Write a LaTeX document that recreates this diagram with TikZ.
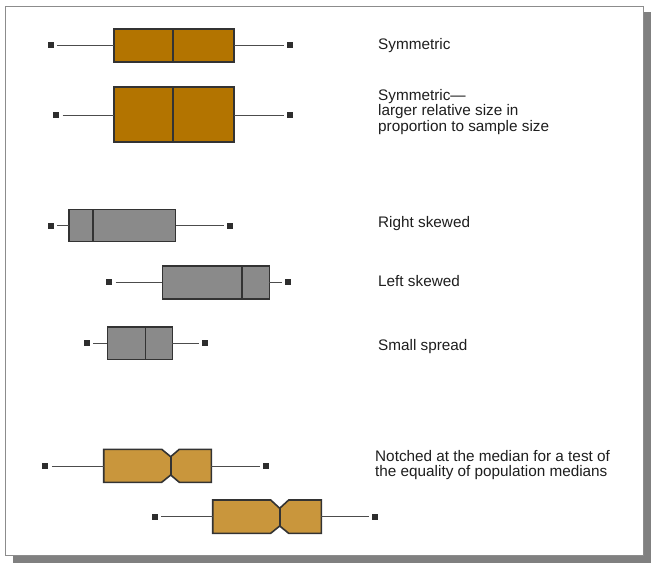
\documentclass[tikz,border=0pt]{standalone}
\usepackage{fontspec}
\setmainfont{Liberation Sans}
\definecolor{ochre}{RGB}{179,116,0}
\definecolor{tan}{RGB}{201,150,60}
\definecolor{boxgray}{RGB}{138,138,138}
\definecolor{edge}{RGB}{51,51,51}
\definecolor{frameline}{RGB}{140,140,140}
\definecolor{shadow}{RGB}{128,128,128}
\definecolor{txt}{RGB}{30,30,30}
\tikzset{
  bx/.style={draw=edge, line width=1.6pt, rectangle, inner sep=0pt, outer sep=0pt},
  med/.style={draw=edge, line width=1.6pt},
  mk/.style={fill=black!82, rectangle, minimum size=6pt, inner sep=0pt, outer sep=3.5pt},
  wh/.style={draw=black!70, line width=0.9pt},
  lbl/.style={anchor=base west, inner sep=0pt, text=txt, font=\fontsize{15.3}{15.4}\selectfont, align=left}
}
\begin{document}
\begin{tikzpicture}[x=1pt,y=-1pt]
\useasboundingbox (0,0) rectangle (657,565);
% frame with shadow
\fill[shadow] (13,12) rectangle (651,563);
\draw[frameline, fill=white, line width=1pt] (5,6) rectangle (643,555);

% Symmetric
\node[bx, fill=ochre, minimum width=120pt, minimum height=33pt] (b1) at (174,45.5) {};
\draw[med] (173,29) -- (173,62);
\node[mk] (l1) at (50.5,45) {};
\node[mk] (r1) at (290,45) {};
\draw[wh] (l1) -- (b1.west |- l1);
\draw[wh] (b1.east |- r1) -- (r1);
\node[lbl] (t1) at (378,49.5) {Symmetric};

% Symmetric larger
\node[bx, fill=ochre, minimum width=120pt, minimum height=55pt] (b2) at (174,114.5) {};
\draw[med] (173,87) -- (173,142);
\node[mk] (l2) at (56,115) {};
\node[mk] (r2) at (290,115) {};
\draw[wh] (l2) -- (b2.west |- l2);
\draw[wh] (b2.east |- r2) -- (r2);
\node[lbl] (t2) at (378,131) {Symmetric---\\larger relative size in\\proportion to sample size};

% Right skewed
\node[bx, fill=boxgray, minimum width=106.7pt, minimum height=32pt] (b3) at (122.3,225.3) {};
\draw[med] (93,209.3) -- (93,241.3);
\node[mk] (l3) at (50.7,225.7) {};
\node[mk] (r3) at (230,225.7) {};
\draw[wh] (l3) -- (b3.west |- l3);
\draw[wh] (b3.east |- r3) -- (r3);
\node[lbl] (t3) at (378,227.5) {Right skewed};

% Left skewed
\node[bx, fill=boxgray, minimum width=107pt, minimum height=33pt] (b4) at (215.8,282.2) {};
\draw[med] (241.7,265.7) -- (241.7,298.7);
\node[mk] (l4) at (109,282.3) {};
\node[mk] (r4) at (288,282.3) {};
\draw[wh] (l4) -- (b4.west |- l4);
\draw[wh] (b4.east |- r4) -- (r4);
\node[lbl] (t4) at (378,286) {Left skewed};

% Small spread
\node[bx, fill=boxgray, minimum width=65pt, minimum height=32.7pt] (b5) at (139.8,343.3) {};
\draw[med] (145.3,327) -- (145.3,359.7);
\node[mk] (l5) at (86.7,343) {};
\node[mk] (r5) at (205,343) {};
\draw[wh] (l5) -- (b5.west |- l5);
\draw[wh] (b5.east |- r5) -- (r5);
\node[lbl] (t5) at (378,350) {Small spread};

% Notched 1
\coordinate (n1w) at (103.7,466);
\coordinate (n1e) at (211.3,466);
\draw[med, fill=tan, line join=miter] (103.7,449.3) -- (161.7,449.3) -- (170.7,456.7) -- (179.3,449.3) -- (211.3,449.3)
  -- (211.3,482.3) -- (179.3,482.3) -- (170.7,475) -- (161.7,482.3) -- (103.7,482.3) -- cycle;
\draw[med] (170.7,456.7) -- (170.7,475);
\node[mk] (l6) at (45.3,466) {};
\node[mk] (r6) at (266,466) {};
\draw[wh] (l6) -- (n1w);
\draw[wh] (n1e) -- (r6);
\node[lbl] (t6) at (375,476.7) {Notched at the median for a test of\\the equality of population medians};

% Notched 2
\coordinate (n2w) at (212.7,516.5);
\coordinate (n2e) at (321.3,516.5);
\draw[med, fill=tan, line join=miter] (212.7,500) -- (270.7,500) -- (279.7,508.3) -- (288.7,500) -- (321.3,500)
  -- (321.3,533.3) -- (288.7,533.3) -- (279.7,526) -- (270.7,533.3) -- (212.7,533.3) -- cycle;
\draw[med] (279.7,508.3) -- (279.7,526);
\node[mk] (l7) at (154.8,516.5) {};
\node[mk] (r7) at (375.3,516.5) {};
\draw[wh] (l7) -- (n2w);
\draw[wh] (n2e) -- (r7);
\end{tikzpicture}
\end{document}
